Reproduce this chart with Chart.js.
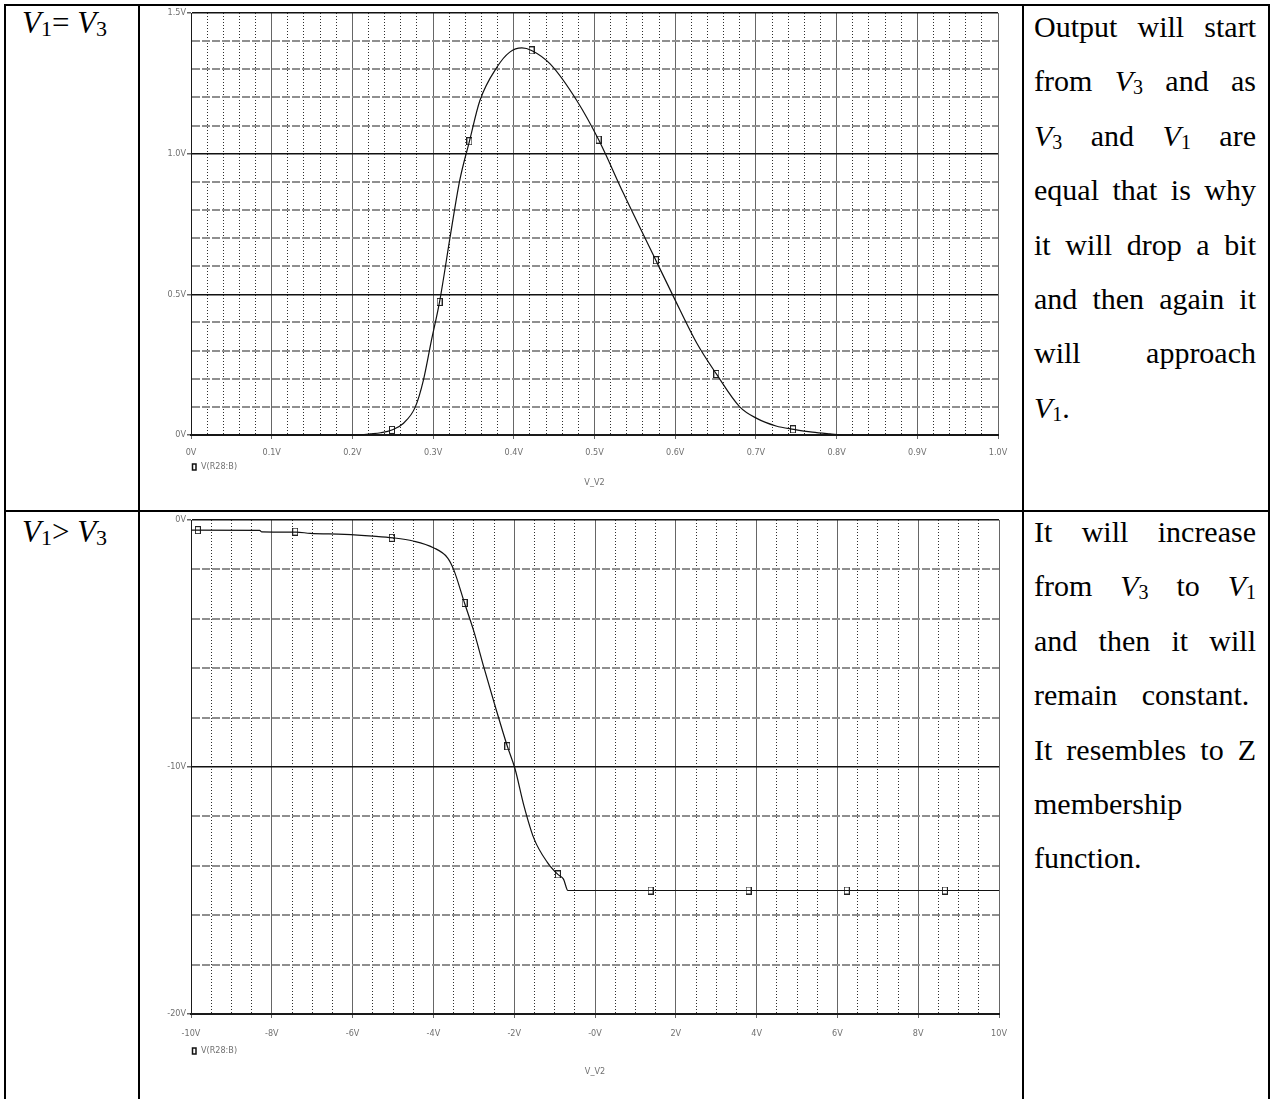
<!DOCTYPE html>
<html>
<head>
<meta charset="utf-8">
<script src="https://cdn.jsdelivr.net/npm/chart.js@4.4.1/dist/chart.umd.min.js"></script>
<style>
  html, body { margin: 0; padding: 0; background: #fff; }
  body { width: 1273px; height: 1099px; position: relative; overflow: hidden;
         font-family: "Liberation Serif", "Times New Roman", serif; color: #000; }
  .rule { position: absolute; background: #000; }
  .plot { position: absolute; }
  .cond { position: absolute; left: 22px; font-size: 31px; line-height: 31px; white-space: nowrap; }
  .cond sub { font-size: 22px; vertical-align: -3px; line-height: 0; }
  .desc { position: absolute; left: 1034px; width: 222px; font-size: 30px; line-height: 54.4px; }
  .desc sub { font-size: 20px; vertical-align: -3px; line-height: 0; }
  .desc .j { text-align: justify; text-align-last: justify; }
</style>
</head>
<body>

<!-- table rules -->
<div class="rule" style="left:4px;top:4px;width:1266px;height:2px"></div>
<div class="rule" style="left:4px;top:510px;width:1266px;height:2px"></div>
<div class="rule" style="left:4px;top:4px;width:2px;height:1095px"></div>
<div class="rule" style="left:138px;top:4px;width:2px;height:1095px"></div>
<div class="rule" style="left:1022px;top:4px;width:2px;height:1095px"></div>
<div class="rule" style="left:1268px;top:4px;width:2px;height:1095px"></div>

<div class="cond" style="top:7px"><i>V</i><sub>1</sub>= <i>V</i><sub>3</sub></div>
<div class="cond" style="top:516px"><i>V</i><sub>1</sub>&gt; <i>V</i><sub>3</sub></div>

<div class="plot" style="left:140px;top:6px"><canvas id="sweepEq" width="882" height="503"></canvas></div>
<div class="plot" style="left:140px;top:512px"><canvas id="sweepGt" width="882" height="587"></canvas></div>

<div class="desc" style="top:0px">
  <div class="j">Output will start</div>
  <div class="j">from <i>V</i><sub>3</sub> and as</div>
  <div class="j"><i>V</i><sub>3</sub> and <i>V</i><sub>1</sub> are</div>
  <div class="j">equal that is why</div>
  <div class="j">it will drop a bit</div>
  <div class="j">and then again it</div>
  <div class="j">will approach</div>
  <div><i>V</i><sub>1</sub>.</div>
</div>

<div class="desc" style="top:505px">
  <div class="j">It will increase</div>
  <div class="j">from <i>V</i><sub>3</sub> to <i>V</i><sub>1</sub></div>
  <div class="j">and then it will</div>
  <div style="word-spacing:17px">remain constant.</div>
  <div class="j">It resembles to Z</div>
  <div>membership</div>
  <div>function.</div>
</div>

<script>
// V1 = V3 : output vs V_V2 (0 .. 1 V)
const sweepEq = [0, 0.1, 0.2, 0.21, 0.222, 0.235, 0.249, 0.263, 0.278, 0.288,
  0.298, 0.308, 0.322, 0.333, 0.345, 0.358, 0.379, 0.395, 0.41, 0.422,
  0.445, 0.478, 0.505, 0.536, 0.576, 0.598, 0.627, 0.651, 0.68, 0.701,
  0.725, 0.747, 0.77, 0.792, 0.81, 0.9, 1.0];
const outEq = [0, 0, 0, 0.001, 0.004, 0.008, 0.018, 0.041, 0.1, 0.195,
  0.337, 0.473, 0.72, 0.905, 1.044, 1.189, 1.307, 1.361, 1.376, 1.367,
  1.319, 1.189, 1.05, 0.858, 0.621, 0.491, 0.325, 0.217, 0.1, 0.059,
  0.032, 0.02, 0.01, 0.004, 0, 0, 0];
const markEqX = [0.249, 0.308, 0.345, 0.422, 0.505, 0.576, 0.651, 0.746];
const markEqY = [0.018, 0.473, 1.044, 1.367, 1.05, 0.621, 0.217, 0.02];

// V1 > V3 : output vs V_V2 (-10 .. 10 V)
const sweepGt = [-10, -8.3, -8.25, -7.4, -7.05, -6.2, -5.5, -5.0, -4.5, -4.0,
  -3.65, -3.5, -3.23, -3.0, -2.75, -2.46, -2.17, -1.98, -1.76, -1.51,
  -1.18, -0.92, -0.78, -0.67, 10];
const outGt = [-0.41, -0.42, -0.48, -0.49, -0.54, -0.58, -0.65, -0.72, -0.85, -1.12,
  -1.53, -2.0, -3.36, -4.5, -5.97, -7.6, -9.16, -10.07, -11.56, -12.9,
  -13.86, -14.35, -14.54, -15.0, -15.0];
const markGtX = [-9.83, -7.42, -5.03, -3.23, -2.17, -0.92, 1.375, 3.8, 6.23, 8.66];
const markGtY = [-0.41, -0.47, -0.72, -3.36, -9.16, -14.35, -15, -15, -15, -15];

const traceName = 'V(R28:B)';
const sweepName = 'V_V2';

const LABEL_FONT = "'DejaVu Sans Condensed', 'Liberation Sans Narrow', 'DejaVu Sans Mono', monospace";
const LABEL_GRAY = '#707070';

const pts = (xs, ys) => xs.map((x, i) => ({x: x, y: ys[i]}));
const isMajor = (v, major) => Math.abs(v / major - Math.round(v / major)) < 1e-6;

// little hollow box used as the trace marker
const marker = document.createElement('canvas');
marker.width = 6; marker.height = 8;
(function () {
  const c = marker.getContext('2d');
  c.strokeStyle = '#222';
  c.lineWidth = 1;
  c.strokeRect(0.5, 0.5, 5, 7);
})();

function axis(o) {
  const horiz = o.horizontal;
  return {
    type: 'linear', min: o.min, max: o.max,
    afterFit: s => { if (horiz) s.height = o.size; else s.width = o.size; },
    ticks: {
      stepSize: o.step, autoSkip: false, maxRotation: 0, includeBounds: true,
      color: LABEL_GRAY, padding: o.pad,
      font: {family: LABEL_FONT, size: 9},
      callback: v => isMajor(v, o.major) ? o.fmt(v) : ''
    },
    grid: {
      tickLength: 4,
      tickColor: c => (c.tick && isMajor(c.tick.value, o.major)) ? '#666' : 'rgba(0,0,0,0)',
      color: c => {
        const maj = c.tick && isMajor(c.tick.value, o.major);
        if (horiz) return maj ? '#666' : '#2e2e2e';
        return maj ? '#111' : '#8f8f8f';
      },
      lineWidth: c => {
        const maj = c.tick && isMajor(c.tick.value, o.major);
        if (horiz) return 1;
        return maj ? 1.5 : 2;
      }
    },
    border: {
      color: '#1a1a1a', width: horiz ? 2 : 1,
      dash: c => {
        if (!c.tick || isMajor(c.tick.value, o.major)) return [];
        return horiz ? [1, 2] : [8, 2];
      }
    },
    title: o.title ? {
      display: true, text: o.title, color: LABEL_GRAY,
      font: {family: LABEL_FONT, size: 9},
      padding: {top: 0, bottom: o.titlePad}
    } : {display: false}
  };
}

// trace legend under the x labels
const traceLegend = {
  id: 'traceLegend',
  afterDraw(chart, args, opts) {
    const ctx = chart.ctx;
    const x = chart.chartArea.left + 1;
    const y = chart.chartArea.bottom + opts.offset;
    ctx.save();
    ctx.strokeStyle = '#111';
    ctx.lineWidth = 1.5;
    ctx.strokeRect(x + 0.5, y - 3, 3.5, 6);
    ctx.fillStyle = LABEL_GRAY;
    ctx.font = '9px ' + LABEL_FONT;
    ctx.textBaseline = 'middle';
    ctx.fillText(opts.text, x + 9, y);
    ctx.restore();
  }
};

function sweepChart(id, xs, ys, mx, my, cfg) {
  return new Chart(document.getElementById(id), {
    type: 'scatter',
    plugins: [traceLegend],
    data: {
      datasets: [
        {
          data: pts(xs, ys), showLine: true,
          borderColor: '#111', borderWidth: 1.2,
          cubicInterpolationMode: 'monotone',
          pointRadius: 0, clip: false
        },
        {
          data: pts(mx, my), showLine: false,
          pointStyle: marker, pointRadius: 3, clip: false
        }
      ]
    },
    options: {
      responsive: false,
      animation: false,
      events: [],
      layout: {padding: cfg.padding},
      plugins: {
        legend: {display: false},
        tooltip: {enabled: false},
        traceLegend: {text: traceName, offset: cfg.legendOffset}
      },
      scales: {
        x: axis(Object.assign({horizontal: true, title: sweepName}, cfg.x)),
        y: axis(Object.assign({horizontal: false}, cfg.y))
      }
    }
  });
}

let graf_eq = sweepChart('sweepEq', sweepEq, outEq, markEqX, markEqY, {
  padding: {top: 7, right: 24, left: 0, bottom: 0},
  legendOffset: 32,
  x: {min: 0, max: 1, step: 0.02, major: 0.1, size: 74, pad: 8, titlePad: 21,
      fmt: v => Math.abs(v) < 1e-9 ? '0V' : v.toFixed(1) + 'V'},
  y: {min: 0, max: 1.5, step: 0.1, major: 0.5, size: 51, pad: 1,
      fmt: v => Math.abs(v) < 1e-9 ? '0V' : v.toFixed(1) + 'V'}
});

let graf_gt = sweepChart('sweepGt', sweepGt, outGt, markGtX, markGtY, {
  padding: {top: 8, right: 23, left: 0, bottom: 0},
  legendOffset: 37,
  x: {min: -10, max: 10, step: 0.5, major: 2, size: 85, pad: 10, titlePad: 22,
      fmt: v => Math.abs(v) < 1e-9 ? '-0V' : Math.round(v) + 'V'},
  y: {min: -20, max: 0, step: 2, major: 10, size: 51, pad: 1,
      fmt: v => Math.abs(v) < 1e-9 ? '0V' : Math.round(v) + 'V'}
});
</script>
</body>
</html>
